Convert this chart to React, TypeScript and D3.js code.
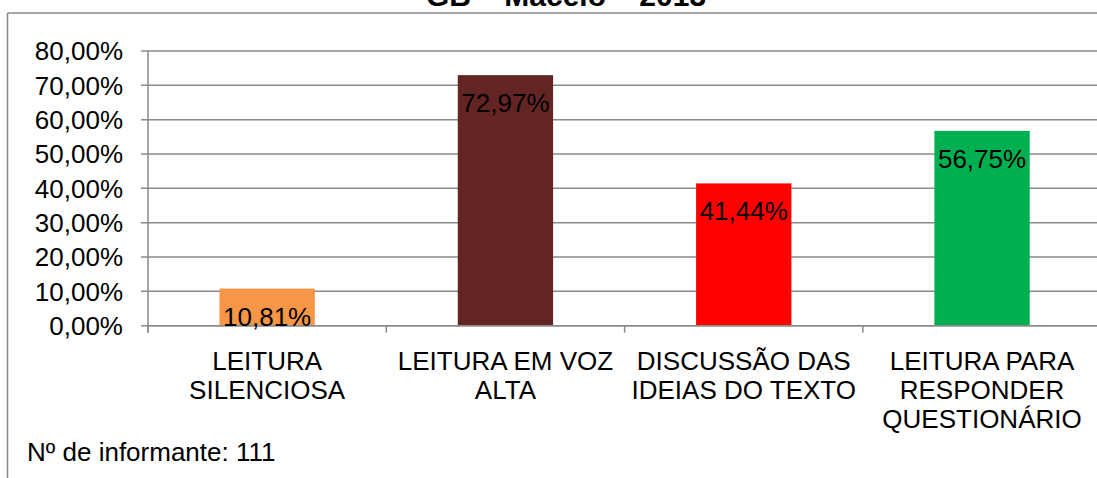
import React from "react";
import * as d3 from "d3";

const categories: string[][] = [
  ["LEITURA", "SILENCIOSA"],
  ["LEITURA EM VOZ", "ALTA"],
  ["DISCUSSÃO DAS", "IDEIAS DO TEXTO"],
  ["LEITURA PARA", "RESPONDER", "QUESTIONÁRIO"],
];
const values = [0.1081, 0.7297, 0.4144, 0.5675];
const valueLabels = ["10,81%", "72,97%", "41,44%", "56,75%"];
const colors = ["#F79646", "#632523", "#FF0000", "#00B050"];
const yTicks = [0, 0.1, 0.2, 0.3, 0.4, 0.5, 0.6, 0.7, 0.8];
const title = "GB – Maceió – 2013";
const footnote = "Nº de informante: 111";

const W = 1097;
const H = 478;
const FONT = "'Liberation Sans', Arial, Helvetica, sans-serif";
const GRID = "#8a8a8a";
const FS = 26;

export default function App() {
  const x0 = 148;
  const plotW = 4 * 238.3;
  const keys = categories.map((_, i) => String(i));
  const x = d3
    .scaleBand<string>()
    .domain(keys)
    .range([x0, x0 + plotW])
    .paddingInner(0.6)
    .paddingOuter(0.3);
  const step = x.step();
  const y = d3.scaleLinear().domain([0, 0.8]).range([325.7, 51]);
  const fmt = (v: number) => d3.format(".2f")(v * 100).replace(".", ",") + "%";

  return (
    <svg
      width={W}
      height={H}
      style={{ position: "absolute", left: 0, top: 0, background: "#fff" }}
      fontFamily={FONT}
    >
      <rect x={0} y={0} width={W} height={H} fill="#fff" />
      {/* chart border */}
      <line x1={7.5} x2={W + 10} y1={13} y2={13} stroke={GRID} strokeWidth={1.5} />
      <line x1={7.5} x2={7.5} y1={13} y2={H + 10} stroke={GRID} strokeWidth={1.5} />
      {/* title */}
      <text x={566} y={6} textAnchor="middle" fontWeight="bold" fontSize={30} fill="#000">
        {title}
      </text>
      {/* gridlines & y ticks */}
      {yTicks.map((t) => (
        <g key={t}>
          <line x1={x0 - 7} x2={x0 + plotW} y1={y(t)} y2={y(t)} stroke={GRID} strokeWidth={1.5} />
          <text x={123} y={y(t)} dy="0.36em" textAnchor="end" fontSize={FS} fill="#000">
            {fmt(t)}
          </text>
        </g>
      ))}
      {/* y axis */}
      <line x1={x0} x2={x0} y1={y(0.8)} y2={y(0) + 7} stroke={GRID} strokeWidth={1.5} />
      {/* x category ticks */}
      {d3.range(categories.length + 1).map((i) => (
        <line
          key={i}
          x1={x0 + i * step}
          x2={x0 + i * step}
          y1={y(0)}
          y2={y(0) + 7}
          stroke={GRID}
          strokeWidth={1.5}
        />
      ))}
      {/* bars */}
      {values.map((v, i) => (
        <rect
          key={i}
          x={x(keys[i])}
          y={y(v)}
          width={x.bandwidth()}
          height={y(0) - y(v)}
          fill={colors[i]}
        />
      ))}
      {/* x axis line on top */}
      <line x1={x0} x2={x0 + plotW} y1={y(0)} y2={y(0)} stroke={GRID} strokeWidth={1.5} />
      {/* data labels */}
      {values.map((v, i) => (
        <text
          key={i}
          x={(x(keys[i]) as number) + x.bandwidth() / 2}
          y={y(v) + 37}
          textAnchor="middle"
          fontSize={FS}
          fill="#000"
        >
          {valueLabels[i]}
        </text>
      ))}
      {/* category labels */}
      {categories.map((lines, i) => (
        <text
          key={i}
          x={(x(keys[i]) as number) + x.bandwidth() / 2}
          y={370}
          textAnchor="middle"
          fontSize={FS}
          fill="#000"
        >
          {lines.map((l, j) => (
            <tspan key={j} x={(x(keys[i]) as number) + x.bandwidth() / 2} dy={j === 0 ? 0 : 29}>
              {l}
            </tspan>
          ))}
        </text>
      ))}
      <text x={27} y={461} fontSize={FS} fill="#000">
        {footnote}
      </text>
    </svg>
  );
}
